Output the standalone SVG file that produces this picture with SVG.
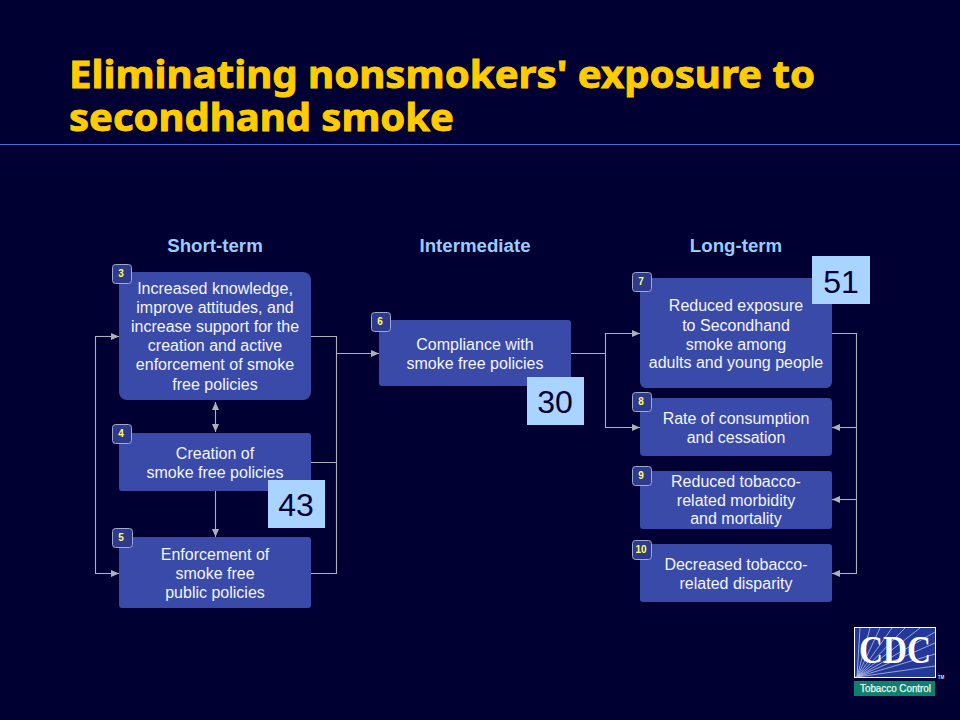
<svg xmlns="http://www.w3.org/2000/svg" width="960" height="720" viewBox="0 0 960 720">
<style>
text{font-family:"Liberation Sans",Arial,sans-serif}
.title{font-family:"Noto Sans","DejaVu Sans",sans-serif;font-weight:700;font-size:38px;fill:#ffcc00;stroke:#ffcc00;stroke-width:.9}
.head{font-weight:700;font-size:18.7px;fill:#99ccff;text-anchor:middle}
.box{fill:#3a4aa8}
.t{font-size:16px;fill:#f2f4ff;text-anchor:middle}
.badge{fill:#2e3a8c;stroke:#a0a8cc;stroke-width:1}
.n{font-size:10px;font-weight:700;fill:#ffff66;text-anchor:middle}
.sq{fill:#a8d4ff}
.num{font-size:32px;fill:#000033;text-anchor:middle}
.c{fill:none;stroke:#b0b0bc;stroke-width:1.1}
.ray{stroke:#b4c0e4;stroke-width:.8}
.cdc{font-family:"Liberation Serif",serif;font-weight:700;font-size:41px;fill:#fff}
</style>
<defs>
<marker id="a" markerUnits="userSpaceOnUse" markerWidth="9" markerHeight="8" refX="8" refY="4" orient="auto-start-reverse"><path d="M0,0.500L8,4L0,7.500z" fill="#b0b0bc"/></marker>
</defs>
<rect width="960" height="720" fill="#000033"/>
<text class="title" x="69" y="88" textLength="746" lengthAdjust="spacingAndGlyphs">Eliminating nonsmokers' exposure to</text>
<text class="title" x="69" y="131" textLength="385" lengthAdjust="spacingAndGlyphs">secondhand smoke</text>
<line x1="0" y1="144.500" x2="960" y2="144.500" stroke="#4a6fd8" stroke-width="1"/>
<text class="head" x="215" y="252">Short-term</text>
<text class="head" x="475" y="252">Intermediate</text>
<text class="head" x="736" y="252">Long-term</text>

<g id="connectors">
<path class="c" d="M311,336.500H336.500V573.500H311M311,462.500H336.500"/>
<path class="c" marker-end="url(#a)" d="M336,353.500H379"/>
<path class="c" marker-start="url(#a)" marker-end="url(#a)" d="M215.500,402V432"/>
<path class="c" marker-end="url(#a)" d="M215.500,491V537"/>
<path class="c" d="M95.500,336.500V573.500"/>
<path class="c" marker-end="url(#a)" d="M95,336.500H119"/>
<path class="c" marker-end="url(#a)" d="M95,573.500H119"/>
<path class="c" d="M571,353.500H606M605.500,333V428"/>
<path class="c" marker-end="url(#a)" d="M605,333.500H640"/>
<path class="c" marker-end="url(#a)" d="M605,427.500H640"/>
<path class="c" d="M832,333.500H857M856.500,333V573"/>
<path class="c" marker-end="url(#a)" d="M857,427.500H832"/>
<path class="c" marker-end="url(#a)" d="M857,499.500H832"/>
<path class="c" marker-end="url(#a)" d="M857,573.500H832"/>
</g>

<g id="node3"><rect class="box" x="119" y="272" width="192" height="128" rx="8"/>
<rect class="badge" x="112.500" y="264.500" width="19" height="19" rx="3"/><text class="n" x="121" y="277">3</text>
<text class="t"><tspan x="215" y="294">Increased knowledge,</tspan><tspan x="215" y="313">improve attitudes, and</tspan><tspan x="215" y="332">increase support for the</tspan><tspan x="215" y="351">creation and active</tspan><tspan x="215" y="370">enforcement of smoke</tspan><tspan x="215" y="390">free policies</tspan></text></g>

<g id="node4"><rect class="box" x="119" y="433" width="192" height="58" rx="3"/>
<rect class="badge" x="112.500" y="424.500" width="19" height="19" rx="3"/><text class="n" x="121" y="437">4</text>
<text class="t"><tspan x="215" y="459">Creation of</tspan><tspan x="215" y="478">smoke free policies</tspan></text></g>

<g id="node5"><rect class="box" x="119" y="537" width="192" height="71" rx="3"/>
<rect class="badge" x="112.500" y="528.500" width="20" height="19" rx="3"/><text class="n" x="121" y="541">5</text>
<text class="t"><tspan x="215" y="560">Enforcement of</tspan><tspan x="215" y="579">smoke free</tspan><tspan x="215" y="598">public policies</tspan></text></g>

<g id="node6"><rect class="box" x="379" y="320" width="192" height="66" rx="3"/>
<rect class="badge" x="371.500" y="312.500" width="19" height="19" rx="3"/><text class="n" x="380" y="325">6</text>
<text class="t"><tspan x="475" y="350">Compliance with</tspan><tspan x="475" y="369">smoke free policies</tspan></text></g>

<g id="node7"><rect class="box" x="640" y="278" width="192" height="110" rx="6"/>
<rect class="badge" x="632.500" y="272.500" width="19" height="19" rx="3"/><text class="n" x="641" y="285">7</text>
<text class="t"><tspan x="736" y="311">Reduced exposure</tspan><tspan x="736" y="331">to Secondhand</tspan><tspan x="736" y="350">smoke among</tspan><tspan x="736" y="368">adults and young people</tspan></text></g>

<g id="node8"><rect class="box" x="640" y="398" width="192" height="58" rx="4"/>
<rect class="badge" x="632.500" y="392.500" width="19" height="19" rx="3"/><text class="n" x="641" y="405">8</text>
<text class="t"><tspan x="736" y="424">Rate of consumption</tspan><tspan x="736" y="443">and cessation</tspan></text></g>

<g id="node9"><rect class="box" x="640" y="471" width="192" height="58" rx="3"/>
<rect class="badge" x="632.500" y="466.500" width="19" height="19" rx="3"/><text class="n" x="641" y="479">9</text>
<text class="t"><tspan x="736" y="487">Reduced tobacco-</tspan><tspan x="736" y="506">related morbidity</tspan><tspan x="736" y="524">and mortality</tspan></text></g>

<g id="node10"><rect class="box" x="640" y="544" width="192" height="58" rx="3"/>
<rect class="badge" x="632.500" y="540.500" width="19" height="19" rx="3"/><text class="n" x="641" y="553">10</text>
<text class="t"><tspan x="736" y="570">Decreased tobacco-</tspan><tspan x="736" y="589">related disparity</tspan></text></g>

<g id="score43"><rect class="sq" x="268" y="480" width="57" height="48"/><text class="num" x="296" y="516">43</text></g>
<g id="score30"><rect class="sq" x="527" y="377" width="57" height="48"/><text class="num" x="555" y="413">30</text></g>
<g id="score51"><rect class="sq" x="812" y="256" width="58" height="48"/><text class="num" x="841" y="293">51</text></g>

<g id="logo">
<rect x="854.500" y="627.500" width="81" height="50" fill="#24389a" stroke="#fff" stroke-width="1"/>
<g class="ray">
<line x1="857" y1="677" x2="860" y2="628"/><line x1="857" y1="677" x2="870" y2="628"/><line x1="857" y1="677" x2="880" y2="628"/><line x1="857" y1="677" x2="892" y2="628"/><line x1="857" y1="677" x2="905" y2="628"/><line x1="857" y1="677" x2="920" y2="628"/><line x1="857" y1="677" x2="935" y2="632"/><line x1="857" y1="677" x2="935" y2="643"/><line x1="857" y1="677" x2="935" y2="654"/><line x1="857" y1="677" x2="935" y2="666"/>
</g>
<text class="cdc" x="859" y="663" textLength="72" lengthAdjust="spacingAndGlyphs">CDC</text>
<rect x="854" y="681" width="81" height="15" fill="#0f7f6e"/>
<text x="860" y="692" font-size="10.500" fill="#eef8f4" stroke="#eef8f4" stroke-width=".25" textLength="71" lengthAdjust="spacingAndGlyphs">Tobacco Control</text>
<text x="941" y="679" font-size="4.500" font-weight="700" fill="#dde" text-anchor="middle">TM</text>
</g>
</svg>
